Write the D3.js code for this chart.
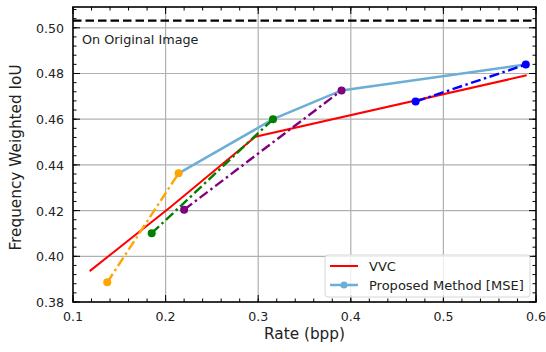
<!DOCTYPE html>
<html lang="en">
<head>
<meta charset="utf-8">
<title>Frequency Weighted IoU vs Rate</title>
<script src="https://d3js.org/d3.v7.min.js"></script>
<style>
  body { margin: 0; background: #fff; }
  text { font-family: "DejaVu Sans", sans-serif; fill: #222; }
</style>
</head>
<body>
<svg id="chart" width="546" height="352"></svg>
<script>
// values
var vvcRate = [0.118, 0.205, 0.297, 0.590];
var vvcIou  = [0.3935, 0.4215, 0.4523, 0.4792];

var propRate = [0.214, 0.316, 0.390, 0.589];
var propIou  = [0.4363, 0.4600, 0.4726, 0.4839];

// short dash-dot segments, one per colour
var segNames  = ["orange", "green", "purple", "blue"];
var segRate   = [[0.137, 0.214], [0.185, 0.316], [0.220, 0.390], [0.470, 0.589]];
var segIou    = [[0.3886, 0.4363], [0.4101, 0.4600], [0.4204, 0.4726], [0.4677, 0.4839]];

var originalIou = 0.5031;
var xTicks = [0.1, 0.2, 0.3, 0.4, 0.5, 0.6];
var yTicks = [0.38, 0.40, 0.42, 0.44, 0.46, 0.48, 0.50];

var svg = d3.select("#chart");
var pLeft = 73, pRight = 536, pTop = 7, pBottom = 302;

var x = d3.scaleLinear().domain([0.1, 0.6]).range([pLeft, pRight]);
var y = d3.scaleLinear().domain([0.38, 0.5091]).range([pBottom, pTop]);

// grid
svg.append("g").selectAll("line").data(xTicks.slice(1, -1)).enter().append("line")
  .attr("x1", d => x(d)).attr("x2", d => x(d)).attr("y1", pTop).attr("y2", pBottom)
  .attr("stroke", "#b0b0b0").attr("stroke-width", 1.2);
svg.append("g").selectAll("line").data(yTicks.slice(1)).enter().append("line")
  .attr("x1", pLeft).attr("x2", pRight).attr("y1", d => y(d)).attr("y2", d => y(d))
  .attr("stroke", "#b0b0b0").attr("stroke-width", 1.2);

// reference line
svg.append("line")
  .attr("x1", pLeft).attr("x2", pRight).attr("y1", y(originalIou)).attr("y2", y(originalIou))
  .attr("stroke", "#000").attr("stroke-width", 2.3).attr("stroke-dasharray", "8.5,4");
svg.append("text").attr("x", 82).attr("y", 44).attr("font-size", 12.8).text("On Original Image");

var line = d3.line().x(d => x(d[0])).y(d => y(d[1]));

// VVC
svg.append("path").datum(d3.zip(vvcRate, vvcIou))
  .attr("d", line).attr("fill", "none").attr("stroke", "#ff0000").attr("stroke-width", 2);

// proposed
var propPts = d3.zip(propRate, propIou);
svg.append("path").datum(propPts)
  .attr("d", line).attr("fill", "none").attr("stroke", "#6baed6").attr("stroke-width", 2.5);

// dash-dot segments with end markers
segNames.forEach(function(c, i) {
  var pts = d3.zip(segRate[i], segIou[i]);
  svg.append("path").datum(pts)
    .attr("d", line).attr("fill", "none").attr("stroke", c).attr("stroke-width", 2.4)
    .attr("stroke-dasharray", "10,3.5,2.5,3.5");
  svg.append("g").selectAll("circle").data(pts).enter().append("circle")
    .attr("cx", d => x(d[0])).attr("cy", d => y(d[1])).attr("r", 4).attr("fill", c);
});

// ticks (inward, all four sides)
var xMinor = d3.range(0.1, 0.6001, 0.02);
var yMinor = d3.range(0.38, 0.5091, 0.004);
var tg = svg.append("g").attr("stroke", "#000").attr("stroke-width", 1);
function tickX(vals, len) {
  vals.forEach(function(v) {
    tg.append("line").attr("x1", x(v)).attr("x2", x(v)).attr("y1", pBottom).attr("y2", pBottom - len);
    tg.append("line").attr("x1", x(v)).attr("x2", x(v)).attr("y1", pTop).attr("y2", pTop + len);
  });
}
function tickY(vals, len) {
  vals.forEach(function(v) {
    tg.append("line").attr("x1", pLeft).attr("x2", pLeft + len).attr("y1", y(v)).attr("y2", y(v));
    tg.append("line").attr("x1", pRight).attr("x2", pRight - len).attr("y1", y(v)).attr("y2", y(v));
  });
}
tickX(xMinor, 3.5);
tickX(xTicks, 7);
tickY(yMinor, 3.5);
tickY(yTicks, 7);

// frame
svg.append("rect").attr("x", pLeft).attr("y", pTop).attr("width", pRight - pLeft).attr("height", pBottom - pTop)
  .attr("fill", "none").attr("stroke", "#000").attr("stroke-width", 1.6);

// tick labels
svg.append("g").selectAll("text").data(xTicks).enter().append("text")
  .attr("x", d => x(d)).attr("y", 321).attr("text-anchor", "middle").attr("font-size", 12.6)
  .text(d => d3.format(".1f")(d));
svg.append("g").selectAll("text").data(yTicks).enter().append("text")
  .attr("x", 64).attr("y", d => y(d) + 5).attr("text-anchor", "end").attr("font-size", 12.6)
  .text(d => d3.format(".2f")(d));

// axis titles
svg.append("text").attr("x", 304.5).attr("y", 339).attr("text-anchor", "middle").attr("font-size", 15.3)
  .text("Rate (bpp)");
svg.append("text").attr("transform", "translate(21,157.5) rotate(-90)")
  .attr("text-anchor", "middle").attr("font-size", 15.3).text("Frequency Weighted IoU");

// legend
var lg = svg.append("g");
lg.append("rect").attr("x", 325).attr("y", 255).attr("width", 205).attr("height", 42).attr("rx", 3)
  .attr("fill", "rgba(255,255,255,0.8)").attr("stroke", "#d6d6d6").attr("stroke-width", 1);
lg.append("line").attr("x1", 330).attr("x2", 358).attr("y1", 266).attr("y2", 266)
  .attr("stroke", "#ff0000").attr("stroke-width", 2);
lg.append("text").attr("x", 369).attr("y", 270.5).attr("font-size", 13).text("VVC");
lg.append("line").attr("x1", 330).attr("x2", 358).attr("y1", 285).attr("y2", 285)
  .attr("stroke", "#6baed6").attr("stroke-width", 2.5);
lg.append("circle").attr("cx", 344).attr("cy", 285).attr("r", 3.5).attr("fill", "#6baed6");
lg.append("text").attr("x", 369).attr("y", 289.5).attr("font-size", 13).text("Proposed Method [MSE]");
</script>
</body>
</html>
